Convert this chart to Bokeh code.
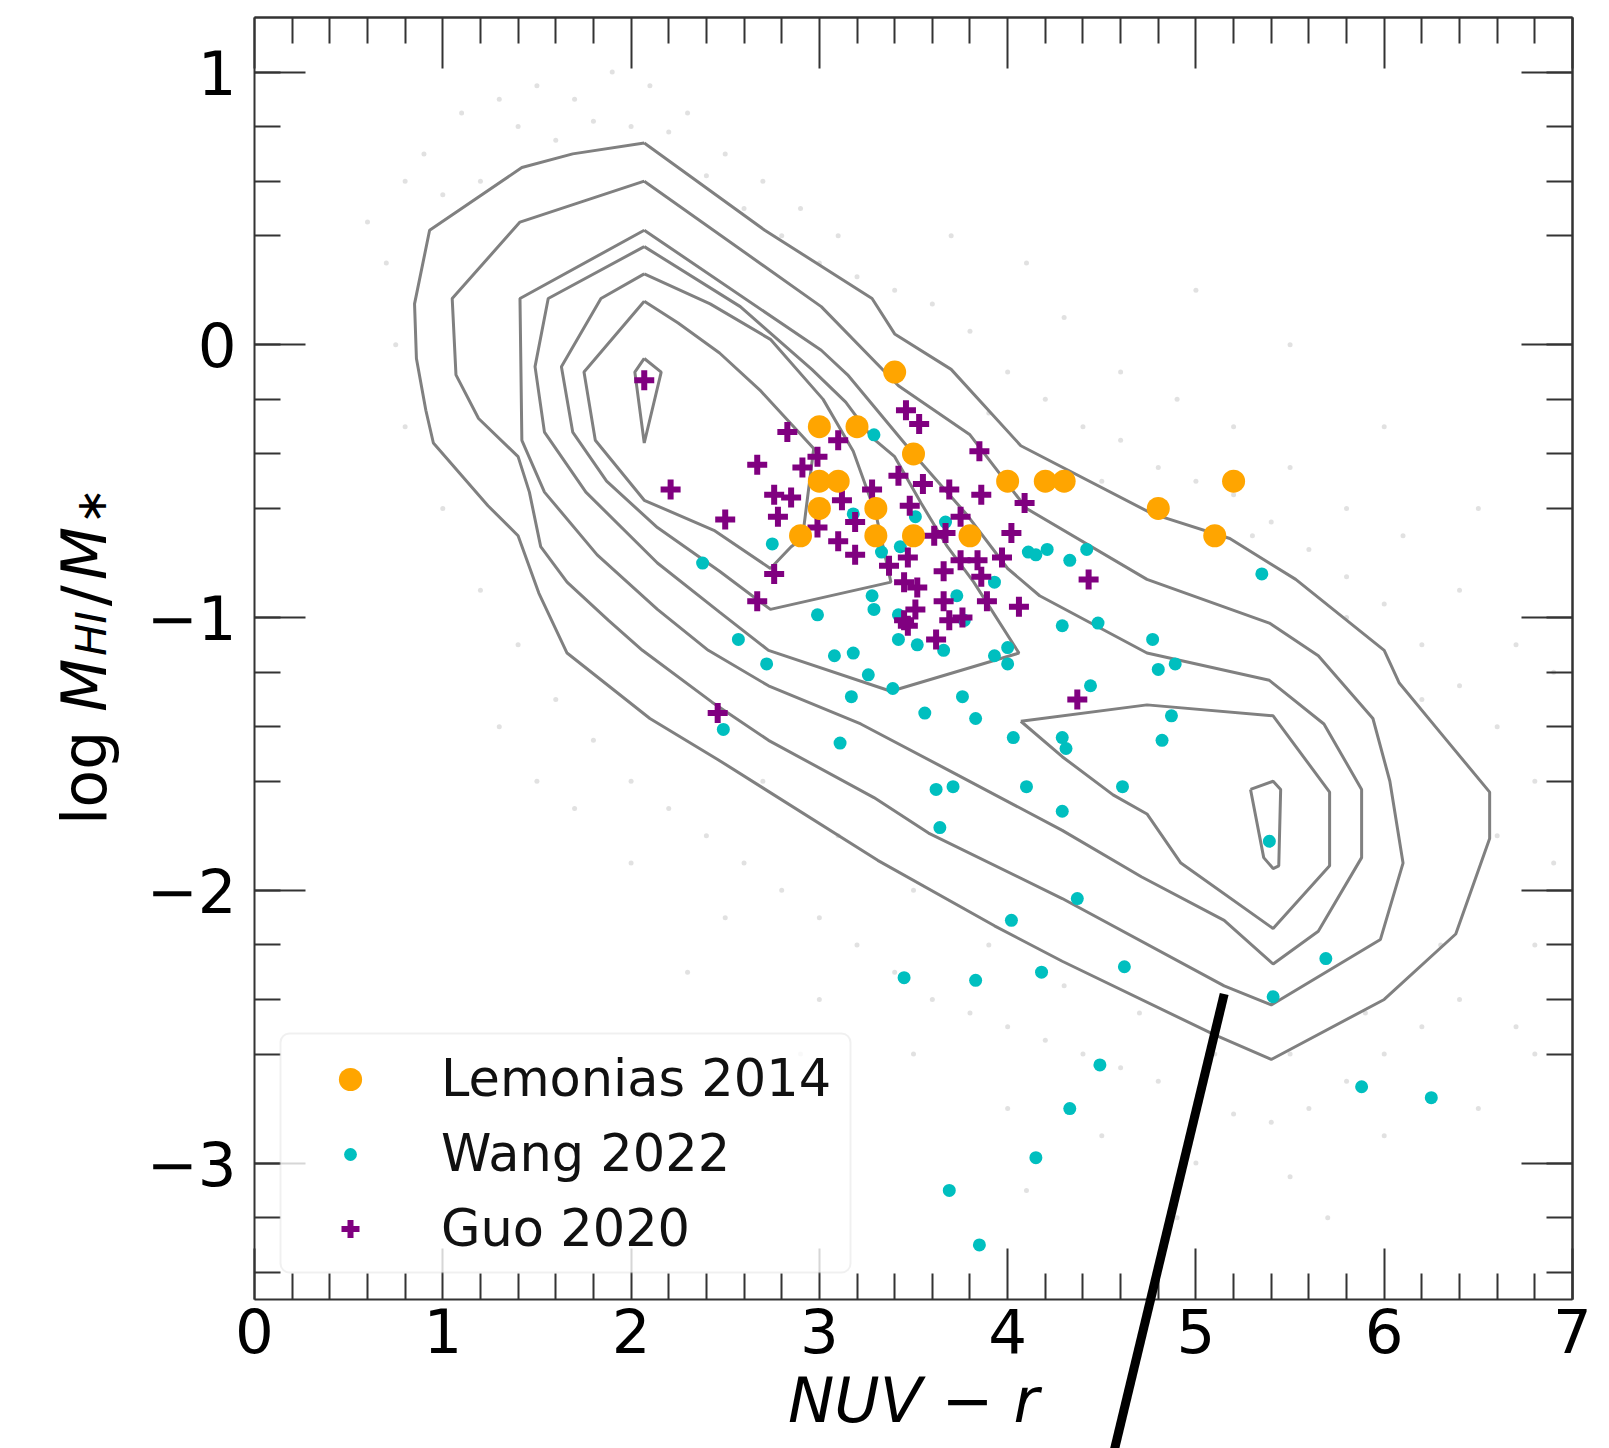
import math
from bokeh.plotting import figure
from bokeh.models import (Range1d, LinearAxis, FixedTicker, Legend, LegendItem,
                          Label, Arrow, BoxAnnotation)
from bokeh.embed import file_html
from bokeh.resources import INLINE

# ---------------- data ----------------
x_ticks = [0, 1, 2, 3, 4, 5, 6, 7]
y_ticks = [-3, -2, -1, 0, 1]
y_tick_labels = {-3: "\u22123", -2: "\u22122", -1: "\u22121", 0: "0", 1: "1"}

lem_x = [3.4, 3.0, 3.2, 3.5, 3.0, 3.1, 4.0, 4.2, 4.3, 5.2, 3.0, 3.3, 4.8, 2.9, 3.3, 3.5, 3.8, 5.1]
lem_y = [-0.1, -0.3, -0.3, -0.4, -0.5, -0.5, -0.5, -0.5, -0.5, -0.5, -0.6, -0.6, -0.6, -0.7, -0.7, -0.7, -0.7, -0.7]

wang_x = [2.38, 2.75, 2.49, 2.57, 2.72, 2.99, 3.08, 3.18, 3.17, 3.11, 3.26, 3.39, 3.45, 3.29,
          3.18, 3.51, 3.67, 3.33, 3.43, 3.28, 3.29, 3.42, 3.42, 3.52, 3.66, 3.73, 3.77, 3.93,
          4.11, 4.15, 4.21, 4.33, 4.42, 5.35, 4.48, 4.29, 4.77, 4.80, 4.89, 4.44, 4.00, 4.00,
          3.93, 4.87, 4.82, 4.03, 4.29, 4.31, 4.10, 4.61, 4.29, 5.39, 4.37, 4.02, 4.18, 4.62,
          5.69, 5.41, 3.83, 4.49, 4.33, 4.15, 3.69, 3.85, 5.88, 6.25, 3.56, 3.76, 3.83, 3.62,
          3.71, 3.64]
wang_y = [-0.80, -0.73, -1.41, -1.08, -1.17, -0.99, -1.14, -1.13, -1.29, -1.46, -1.21, -1.26, -2.32, -0.33,
          -0.62, -0.63, -0.65, -0.76, -0.74, -0.92, -0.97, -0.99, -1.08, -1.10, -1.12, -0.92, -1.01, -0.87,
          -0.76, -0.77, -0.75, -0.79, -0.75, -0.84, -1.02, -1.03, -1.08, -1.19, -1.17, -1.25, -1.11, -1.17,
          -1.14, -1.36, -1.45, -1.44, -1.44, -1.48, -1.62, -1.62, -1.71, -1.82, -2.03, -2.11, -2.30, -2.28,
          -2.25, -2.39, -2.33, -2.64, -2.80, -2.98, -3.10, -3.30, -2.72, -2.76, -1.35, -1.29, -1.37, -1.63,
          -1.62, -1.77]

guo_x = [2.07, 2.21, 2.50, 2.67, 2.67, 2.46, 2.83, 3.10, 2.99, 2.91, 2.76, 2.85, 2.78, 2.76,
         2.99, 3.12, 3.10, 3.19, 3.28, 3.19, 3.46, 3.53, 3.85, 3.42, 3.55, 3.69, 3.86, 4.09,
         3.48, 3.61, 3.67, 3.75, 4.02, 3.97, 3.75, 3.84, 3.37, 3.47, 3.45, 3.52, 3.66, 3.86,
         3.89, 4.06, 3.51, 3.47, 3.69, 3.62, 4.43, 4.37, 3.45, 3.76, 3.66]
guo_y = [-0.13, -0.53, -0.64, -0.44, -0.94, -1.35, -0.32, -0.35, -0.41, -0.45, -0.55, -0.56, -0.63, -0.84,
         -0.67, -0.57, -0.72, -0.77, -0.53, -0.65, -0.24, -0.29, -0.39, -0.48, -0.51, -0.53, -0.55, -0.58,
         -0.59, -0.70, -0.69, -0.63, -0.69, -0.78, -0.79, -0.79, -0.81, -0.78, -0.87, -0.89, -0.94, -0.85,
         -0.94, -0.96, -0.97, -1.03, -1.01, -1.08, -0.86, -1.30, -1.01, -1.00, -0.83]

# faint parent-sample galaxies (background cloud)
bg_x = [0.9, 1.1, 1.3, 1.5, 1.7, 1.9, 2.1, 1.2, 1.4, 1.0, 0.8, 1.6, 2.3, 2.5, 2.7, 2.9, 3.1, 0.7, 0.75, 0.8,
        0.6, 1.8, 2.0, 2.2, 2.4, 2.6, 2.8, 3.0, 3.2, 3.4,
        3.6, 3.8, 4.0, 4.2, 4.4, 4.6, 4.8, 5.0, 5.2, 5.4, 5.6, 5.8, 6.0, 6.2, 6.4, 6.6, 6.8, 6.9, 6.8, 6.7,
        4.3, 4.6, 4.9, 5.2, 5.5, 5.8, 6.1, 6.4, 6.7, 5.0, 5.5, 6.0, 6.5, 3.9, 4.5, 5.3, 6.2, 6.6, 6.9, 4.1,
        3.7, 5.8,
        1.0, 1.2, 1.4, 1.6, 1.8, 2.0, 2.2, 2.4, 2.6, 2.8, 3.0, 3.2, 3.4, 3.6, 3.8, 4.0, 4.2, 4.4, 4.6, 4.8,
        5.0, 5.2, 5.4, 5.6, 5.8, 6.0, 6.2, 6.4, 1.5, 2.0, 2.5, 3.0, 3.5, 4.0, 4.5, 5.0, 5.5, 6.0, 2.7, 3.1,
        3.5, 3.9, 4.3, 4.7, 5.1, 5.5, 5.9, 6.3, 1.3, 1.7, 2.3, 2.9, 4.1, 4.9, 5.7, 6.5, 6.8]
bg_y = [0.7, 0.85, 0.9, 0.95, 0.9, 1.0, 0.95, 0.6, 0.8, 0.55, 0.6, 0.75, 0.85, 0.7, 0.6, 0.5, 0.4, 0.3, 0.0, -0.3,
        0.45, 0.82, 0.8, 0.78, 0.62, 0.5, 0.4, 0.3, 0.25, 0.2,
        0.15, 0.05, -0.1, -0.2, -0.3, -0.35, -0.45, -0.5, -0.55, -0.65, -0.75, -0.85, -0.95, -1.1, -1.25, -1.4, -1.6, -1.9, -2.2, -2.5,
        0.1, -0.1, -0.2, -0.3, -0.45, -0.6, -0.7, -0.9, -1.1, 0.2, 0.0, -0.3, -0.6, -0.25, -0.5, -0.7, -1.3, -1.8, -1.2, 0.3,
        0.4, -1.0,
        -0.6, -0.9, -1.1, -1.3, -1.45, -1.6, -1.7, -1.8, -1.9, -2.0, -2.1, -2.2, -2.3, -2.4, -2.45, -2.5, -2.55, -2.6, -2.65, -2.7,
        -2.78, -2.82, -2.85, -2.8, -2.7, -2.6, -2.5, -2.4, -1.6, -1.9, -2.1, -2.4, -2.6, -2.8, -2.9, -3.0, -3.05, -2.9, -1.6, -1.8,
        -2.0, -2.2, -2.35, -2.45, -2.6, -2.6, -2.45, -2.2, -1.4, -1.7, -2.3, -2.6, -3.1, -3.2, -3.2, -2.8, -2.6]

# density contours (levels from outermost to innermost; some levels have two islands)
c1_x = [2.07, 1.69, 1.42, 0.93, 0.85, 0.86, 0.91, 0.95, 1.24, 1.40, 1.51, 1.66, 2.10, 2.46, 3.31, 3.93, 4.29,
        5.10, 5.40, 6.00, 6.38, 6.56, 6.56, 6.32, 6.08, 6.00, 5.53, 5.18, 4.77, 4.07, 3.70, 3.40, 3.28, 2.71]
c1_y = [0.74, 0.70, 0.65, 0.42, 0.15, -0.05, -0.24, -0.36, -0.59, -0.70, -0.91, -1.13, -1.37, -1.52, -1.89, -2.13, -2.26,
        -2.53, -2.62, -2.40, -2.16, -1.81, -1.64, -1.44, -1.24, -1.12, -0.86, -0.71, -0.62, -0.37, -0.09, 0.04, 0.17, 0.42]
c2_x = [2.07, 1.41, 1.05, 1.07, 1.19, 1.40, 1.46, 1.52, 1.66, 1.88, 2.06, 2.43, 2.73, 3.29, 3.58, 4.29, 5.15,
        5.40, 5.98, 6.10, 6.03, 5.94, 5.65, 5.39, 4.74, 4.10, 3.80, 3.42, 3.01]
c2_y = [0.60, 0.45, 0.17, -0.11, -0.27, -0.41, -0.54, -0.74, -0.87, -1.01, -1.12, -1.31, -1.45, -1.66, -1.79, -2.03, -2.35,
        -2.42, -2.18, -1.90, -1.60, -1.37, -1.14, -1.02, -0.86, -0.60, -0.33, -0.15, 0.14]
c3_x = [2.07, 1.41, 1.42, 1.54, 1.82, 2.14, 2.41, 2.73, 3.22, 3.66, 4.29, 4.71, 5.15, 5.41, 5.65, 5.88, 5.88,
        5.68, 5.39, 4.74, 4.17, 4.00, 3.78, 3.50, 3.15, 3.01]
c3_y = [0.42, 0.17, -0.35, -0.54, -0.77, -0.97, -1.12, -1.25, -1.39, -1.55, -1.78, -1.95, -2.11, -2.27, -2.15, -1.88, -1.63,
        -1.39, -1.23, -1.13, -0.92, -0.82, -0.62, -0.40, -0.11, -0.02]
c4a_x = [2.07, 1.56, 1.49, 1.54, 1.76, 2.14, 2.47, 2.73, 3.38, 4.06, 3.82, 3.68, 3.54, 3.40, 3.28, 3.14, 2.96, 2.58]
c4a_y = [0.36, 0.17, -0.08, -0.32, -0.54, -0.80, -0.98, -1.12, -1.27, -1.13, -0.87, -0.74, -0.58, -0.41, -0.34, -0.21, -0.09, 0.14]
c4b_x = [4.07, 4.74, 5.41, 5.71, 5.71, 5.41, 4.92, 4.74, 4.56, 4.29]
c4b_y = [-1.38, -1.32, -1.36, -1.64, -1.91, -2.14, -1.90, -1.72, -1.65, -1.51]
c5a_x = [2.07, 1.84, 1.63, 1.69, 1.87, 2.14, 2.47, 2.74, 3.38, 3.30, 3.18, 3.02, 2.74, 2.42]
c5a_y = [0.26, 0.17, -0.08, -0.32, -0.50, -0.67, -0.83, -0.97, -0.87, -0.62, -0.39, -0.20, 0.02, 0.15]
c5b_x = [5.29, 5.41, 5.45, 5.44, 5.41, 5.36]
c5b_y = [-1.63, -1.60, -1.63, -1.91, -1.92, -1.88]
c6_x = [2.07, 1.75, 1.81, 2.07, 2.44, 2.74, 2.85, 2.91, 2.97, 2.69, 2.47, 2.25]
c6_y = [0.16, -0.10, -0.35, -0.57, -0.68, -0.82, -0.74, -0.71, -0.38, -0.17, -0.03, 0.08]
c7_x = [2.07, 2.16, 2.07, 2.02]
c7_y = [-0.05, -0.10, -0.36, -0.10]

# pointer line drawn over the figure (runs off the bottom of the page)
pointer_x = [5.15, 4.48]
pointer_y = [-2.38, -4.30]

# ---------------- figure ----------------
W, H = 1609, 1448
X0, X1, Y0, Y1 = 0.0, 7.0, -3.5, 1.2          # axes box in data units
LEFT, TOP, FW, FH = 254, 17, 1318, 1282        # axes box in page pixels
PXU = FW / (X1 - X0)
PYU = FH / (Y1 - Y0)
xs = X0 - LEFT / PXU
ye = Y1 + TOP / PYU
p = figure(width=W, height=H, output_backend="svg", toolbar_location=None,
           x_range=Range1d(xs, xs + W / PXU), y_range=Range1d(ye - H / PYU, ye),
           x_axis_location=None, y_axis_location=None,
           min_border=0, background_fill_color="white", border_fill_color="white")
p.outline_line_color = None
p.grid.visible = False


def px2x(px):
    return xs + px / PXU


def px2y(py):
    return ye - py / PYU


x_minor = [round(i * 0.2, 2) for i in range(0, 36) if i % 5]
y_minor = [round(-3.4 + i * 0.2, 2) for i in range(0, 24) if (i + 2) % 5]

AX_COL = "#333333"


def style(ax, major_len, minor_len):
    ax.major_tick_in = major_len
    ax.major_tick_out = 0
    ax.minor_tick_in = minor_len
    ax.minor_tick_out = 0
    ax.major_tick_line_width = 2
    ax.minor_tick_line_width = 2
    ax.major_tick_line_color = AX_COL
    ax.minor_tick_line_color = AX_COL
    ax.axis_line_width = 2
    ax.axis_line_color = AX_COL
    ax.major_label_text_font = "DejaVu Sans"
    ax.major_label_text_font_size = "61px"
    ax.major_label_text_color = "black"


# background cloud and contours (under the samples)
p.scatter(bg_x, bg_y, marker="circle", size=5, fill_color="#9a9a9a", fill_alpha=0.3, line_color=None)
CCOL = "#808080"
for cx, cy in [(c1_x, c1_y), (c2_x, c2_y), (c3_x, c3_y), (c4a_x, c4a_y), (c4b_x, c4b_y),
               (c5a_x, c5a_y), (c5b_x, c5b_y), (c6_x, c6_y), (c7_x, c7_y)]:
    p.line(cx + cx[:1], cy + cy[:1], line_color=CCOL, line_width=3)

# samples
r_wang = p.scatter(wang_x, wang_y, marker="circle", size=13, fill_color="#00bfbf", line_color=None)
r_guo = p.scatter(guo_x, guo_y, marker="cross", size=20, line_color="purple", line_width=6)
r_lem = p.scatter(lem_x, lem_y, marker="circle", size=23, fill_color="orange", line_color=None)

# bottom and left axes (with labels)
bottom = LinearAxis(ticker=FixedTicker(ticks=x_ticks, minor_ticks=x_minor),
                    fixed_location=Y0, bounds=(X0, X1))
left = LinearAxis(ticker=FixedTicker(ticks=y_ticks, minor_ticks=y_minor),
                  fixed_location=X0, bounds=(Y0, Y1))
style(bottom, 51, 26)
style(left, 51, 26)
bottom.major_label_standoff = 8
bottom.axis_label = "NUV \u2212 r"
bottom.axis_label_text_font = "DejaVu Sans"
bottom.axis_label_text_font_style = "italic"
bottom.axis_label_text_font_size = "62px"
bottom.axis_label_text_color = "black"
bottom.axis_label_standoff = 8
left.major_label_standoff = 18
left.major_label_overrides = y_tick_labels
p.add_layout(bottom, "below")
p.add_layout(left, "left")

# top and right: tick marks only (drawn as two tick-only axes each)
for place, loc, bnds, majors, minors in [("above", Y1, (X0, X1), x_ticks, x_minor),
                                         ("right", X1, (Y0, Y1), y_ticks, y_minor)]:
    a_major = LinearAxis(ticker=FixedTicker(ticks=[], minor_ticks=majors), fixed_location=loc, bounds=bnds)
    a_minor = LinearAxis(ticker=FixedTicker(ticks=[], minor_ticks=minors), fixed_location=loc, bounds=bnds)
    style(a_major, 0, 51)
    style(a_minor, 0, 26)
    p.add_layout(a_major, place)
    p.add_layout(a_minor, place)

# legend frame + one legend row per sample (each with its own marker size)
p.add_layout(BoxAnnotation(left=px2x(280), right=px2x(850), top=px2y(1033), bottom=px2y(1272),
                           fill_color="white", fill_alpha=0.8, line_color="#cccccc", line_width=2,
                           border_radius=9))
rows = [("Lemonias 2014", r_lem, 58, 1077), ("Wang 2022", r_wang, 32, 1152), ("Guo 2020", r_guo, 45, 1227)]
for lab, rend, gh, cy in rows:
    leg = Legend(items=[LegendItem(label=lab, renderers=[rend])],
                 location=(350 - 30, (H - cy) - 31), orientation="vertical",
                 glyph_width=60, glyph_height=gh, label_standoff=61, label_height=10,
                 padding=0, margin=0, spacing=0,
                 background_fill_alpha=0, border_line_color=None,
                 label_text_font="DejaVu Sans", label_text_font_size="51px", label_text_color="#111111")
    p.add_layout(leg)

# y-axis label: log M_HI / M_*  built from pieces (text, style, scale, subscript, advance in em)
FS = 62
pieces = [("log", "normal", 1.0, False, 1.525 + 0.30),
          ("M", "italic", 1.0, False, 0.90),
          ("HI", "italic", 0.7, True, 1.15),
          ("/", "normal", 1.0, False, 0.42),
          ("M", "italic", 1.0, False, 0.90),
          ("\u2217", "normal", 0.7, True, 0.838)]
total = sum(w * FS * s for _, _, s, _, w in pieces)
base_x = 84
pos = 656 + total / 2
for txt, fstyle, scale, sub, w in pieces:
    bx = base_x + (6 if sub else 0)
    p.add_layout(Label(x=px2x(bx), y=px2y(pos), text=txt, angle=math.pi / 2,
                       text_align="left", text_baseline="alphabetic",
                       text_font="DejaVu Sans", text_font_style=fstyle,
                       text_font_size=f"{FS * scale:.0f}px", text_color="black"))
    pos -= w * FS * scale

# pointer
p.add_layout(Arrow(end=None, x_start=pointer_x[0], y_start=pointer_y[0],
                   x_end=pointer_x[1], y_end=pointer_y[1],
                   line_color="black", line_width=9))

open("out.html", "w").write(file_html(p, INLINE))
